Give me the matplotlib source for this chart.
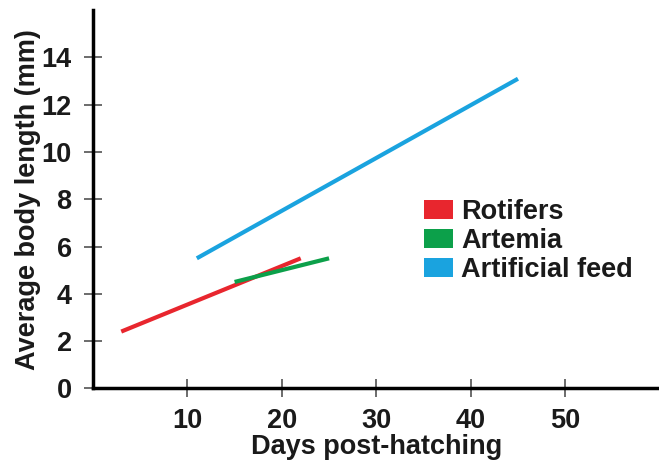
import matplotlib
matplotlib.use("Agg")
import matplotlib.pyplot as plt
from matplotlib.patches import Patch

# data (days, mm)
rotifers_x = [3, 22]
rotifers_y = [2.4, 5.5]
artemia_x = [15, 25]
artemia_y = [4.5, 5.5]
feed_x = [11, 45]
feed_y = [5.5, 13.1]

labels = ["Rotifers", "Artemia", "Artificial feed"]
colors = ["#e8262e", "#0ca04a", "#1aa3df"]
x_ticks = [10, 20, 30, 40, 50]
y_ticks = [0, 2, 4, 6, 8, 10, 12, 14]

plt.rcParams['font.family'] = ['Liberation Sans', 'DejaVu Sans']
plt.rcParams['font.weight'] = 'bold'

fig = plt.figure(figsize=(6.59, 4.65), dpi=100)
ax = fig.add_axes([0.141, 0.165, 0.86, 0.813])

ax.plot(rotifers_x, rotifers_y, color=colors[0], lw=3.0, solid_capstyle='butt')
ax.plot(artemia_x, artemia_y, color=colors[1], lw=3.0, solid_capstyle='butt')
ax.plot(feed_x, feed_y, color=colors[2], lw=3.0, solid_capstyle='butt')

ax.set_xlim(0, 60)
ax.set_ylim(0, 16)
ax.set_xticks(x_ticks)
ax.set_yticks(y_ticks)
ax.tick_params(direction='inout', length=12.5, width=1.1, colors='#444444',
               labelsize=19.5, labelcolor='#1a1a1a')
ax.tick_params(axis='x', pad=8)
ax.tick_params(axis='y', pad=9)

for s in ['top', 'right']:
    ax.spines[s].set_visible(False)
for s in ['left', 'bottom']:
    ax.spines[s].set_linewidth(2.5)
    ax.spines[s].set_color('black')

ax.set_xlabel('Days post-hatching', fontsize=19.5, fontweight='bold', color='#1a1a1a', labelpad=0)
ax.set_ylabel('Average body length (mm)', fontsize=19.5, fontweight='bold', color='#1a1a1a', labelpad=0)

handles = [Patch(facecolor=c, edgecolor='none') for c in colors]
leg = ax.legend(handles, labels, loc='center left', bbox_to_anchor=(0.585, 0.39),
                frameon=False, fontsize=19.5, handlelength=1.05, handleheight=0.7,
                handletextpad=0.3, labelspacing=0.12, borderaxespad=0,
                borderpad=0, labelcolor='#1a1a1a')

fig.savefig('out.png', dpi=100)
